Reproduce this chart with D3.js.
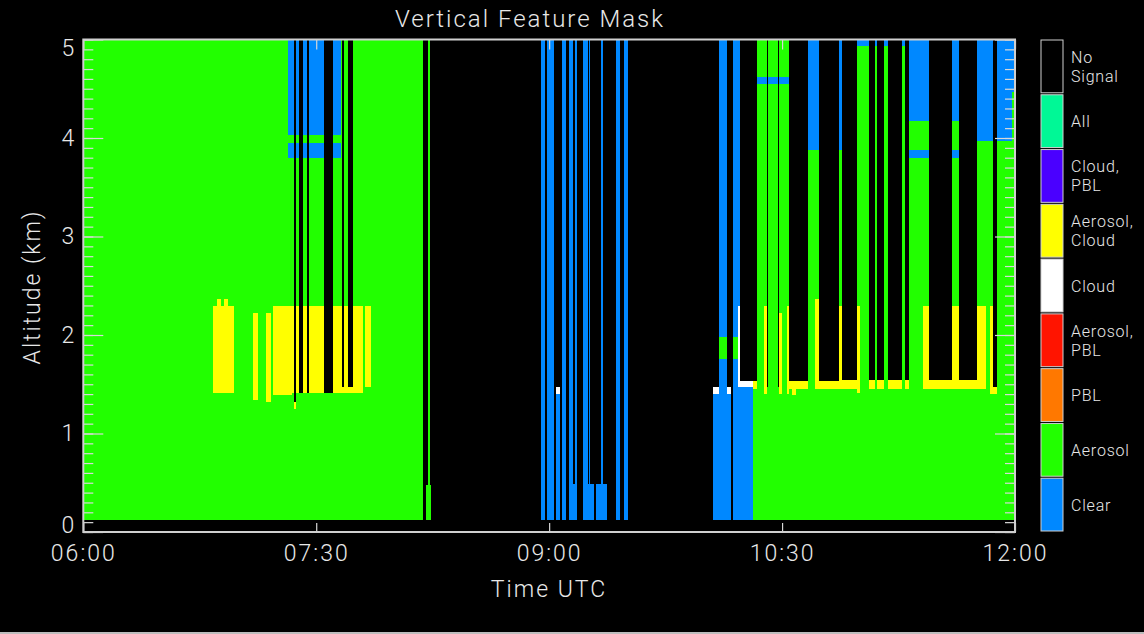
<!DOCTYPE html>
<html>
<head>
<meta charset="utf-8">
<script src="https://cdn.jsdelivr.net/npm/d3@7"></script>
<style>
  html, body { margin: 0; padding: 0; background: #000; }
  svg { display: block; }
  text { font-family: "Roboto", "DejaVu Sans", sans-serif; font-weight: 300; fill: #e8e8e8; }
</style>
</head>
<body>
<svg id="chart" width="1144" height="634"></svg>
<script>
// Feature classes, listed from the bottom of the colour bar to the top
const classNames = [["Clear"], ["Aerosol"], ["PBL"], ["Aerosol,", "PBL"], ["Cloud"],
                    ["Aerosol,", "Cloud"], ["Cloud,", "PBL"], ["All"], ["No", "Signal"]];
const classColors = ["#0088ff", "#22ff00", "#ff7800", "#ff1400", "#ffffff",
                     "#ffff00", "#4a00ff", "#00f896", "#000000"];
const CLR = 0, AER = 1, CLD = 4, AC = 5, NS = 8;

// Axis ticks: time in minutes after 00:00 UTC, altitude in km
const timeTicks = [360, 450, 540, 630, 720];
const altTicks = [0, 1, 2, 3, 4, 5];

// Mask cells: [start min, end min, base km, top km, class]; later cells paint over earlier ones
const morningCells = [
  [360.3, 491.4, 0.12, 5.0, AER],
  [410.1, 418.2, 1.41, 2.29, AC],
  [411.5, 413.1, 2.29, 2.37, AC],
  [414.5, 416.0, 2.29, 2.37, AC],
  [425.4, 427.6, 1.34, 2.22, AC],
  [430.6, 432.5, 1.32, 2.22, AC],
  [433.4, 440.5, 1.39, 2.29, AC],
  [440.5, 468.2, 1.41, 2.29, AC],
  [468.8, 471.0, 1.475, 2.29, AC],
  [441.4, 442.2, 1.25, 1.32, AC],
  [439.1, 459.4, 4.03, 5.0, CLR],
  [439.1, 459.4, 3.80, 3.95, CLR],
  [441.4, 442.2, 1.32, 5.0, NS],
  [443.5, 445.0, 1.41, 5.0, NS],
  [446.3, 447.3, 1.41, 5.0, NS],
  [453.0, 456.6, 1.41, 5.0, NS],
  [459.9, 460.7, 1.475, 5.0, NS],
  [462.4, 464.3, 1.475, 5.0, NS],
  [492.6, 494.3, 0.12, 0.48, AER],
  [493.3, 494.0, 0.48, 5.0, AER]
];

const middayCells = [
  [537.0, 538.5, 0.12, 5.0, CLR],
  [539.3, 542.0, 0.12, 5.0, CLR],
  [542.6, 544.2, 0.12, 1.40, CLR],
  [542.6, 544.2, 1.40, 1.47, CLD],
  [544.9, 546.4, 0.12, 5.0, CLR],
  [547.8, 549.3, 0.49, 5.0, CLR],
  [550.0, 550.7, 0.49, 5.0, CLR],
  [547.8, 550.7, 0.12, 0.49, CLR],
  [552.9, 554.9, 0.49, 5.0, CLR],
  [555.3, 555.9, 0.49, 5.0, CLR],
  [552.9, 557.3, 0.12, 0.49, CLR],
  [560.0, 560.8, 0.49, 5.0, CLR],
  [558.1, 562.4, 0.12, 0.49, CLR],
  [565.8, 567.5, 0.12, 5.0, CLR],
  [568.8, 570.3, 0.12, 5.0, CLR]
];

const lateCells = [
  [603.4, 610.1, 0.12, 1.40, CLR],
  [603.4, 605.7, 1.40, 1.475, CLD],
  [608.8, 610.1, 1.40, 1.475, CLD],
  [605.7, 608.8, 1.40, 1.76, CLR],
  [605.7, 608.8, 1.76, 1.98, AER],
  [605.7, 608.8, 1.98, 5.0, CLR],
  [611.1, 618.9, 0.12, 1.475, CLR],
  [611.1, 613.7, 1.475, 1.76, CLR],
  [611.1, 613.7, 1.76, 1.98, AER],
  [611.1, 613.7, 1.98, 5.0, CLR],
  [613.1, 613.8, 1.475, 2.29, CLD],
  [613.7, 618.9, 1.475, 1.53, CLD],
  [618.9, 720.0, 0.12, 1.45, AER],
  [620.4, 632.8, 1.45, 5.0, AER],
  [620.4, 632.8, 4.545, 4.616, CLR],
  [624.0, 624.7, 1.475, 5.0, NS],
  [628.3, 628.9, 1.475, 5.0, NS],
  [623.0, 624.0, 1.40, 2.29, AC],
  [628.9, 629.8, 1.40, 2.22, AC],
  [631.8, 632.8, 1.40, 2.29, AC],
  [618.9, 620.4, 1.45, 1.53, AC],
  [632.8, 640.1, 1.45, 1.53, AC],
  [634.0, 635.5, 1.39, 1.45, AC],
  [640.1, 644.2, 1.45, 3.88, AER],
  [640.1, 644.2, 3.88, 5.0, CLR],
  [642.7, 644.2, 1.45, 2.37, AC],
  [644.2, 652.1, 1.45, 1.53, AC],
  [652.1, 653.0, 1.45, 3.88, AER],
  [652.1, 653.0, 3.88, 5.0, CLR],
  [652.1, 653.0, 1.45, 2.29, AC],
  [653.0, 658.8, 1.45, 1.54, AC],
  [658.8, 663.7, 1.45, 4.93, AER],
  [658.8, 663.7, 4.93, 5.0, CLR],
  [658.8, 660.1, 1.41, 2.29, AC],
  [663.7, 665.9, 1.45, 1.54, AC],
  [665.9, 666.6, 1.45, 4.93, AER],
  [665.9, 666.6, 4.93, 5.0, CLR],
  [666.6, 669.5, 1.45, 1.54, AC],
  [669.5, 671.0, 1.45, 4.93, AER],
  [669.5, 671.0, 4.93, 5.0, CLR],
  [671.0, 676.2, 1.45, 1.54, AC],
  [676.2, 677.5, 1.45, 4.93, AER],
  [676.2, 677.5, 4.93, 5.0, CLR],
  [677.5, 679.0, 1.45, 1.54, AC],
  [679.0, 686.9, 1.45, 3.80, AER],
  [679.0, 686.9, 3.80, 3.88, CLR],
  [679.0, 686.9, 3.88, 4.17, AER],
  [679.0, 686.9, 4.17, 5.0, CLR],
  [684.3, 686.9, 1.45, 2.29, AC],
  [686.9, 695.6, 1.45, 1.54, AC],
  [695.6, 698.4, 1.45, 3.80, AER],
  [695.6, 698.4, 3.80, 3.88, CLR],
  [695.6, 698.4, 3.88, 4.17, AER],
  [695.6, 698.4, 4.17, 5.0, CLR],
  [695.6, 698.4, 1.45, 2.29, AC],
  [698.4, 705.2, 1.45, 1.54, AC],
  [705.2, 711.6, 1.45, 3.97, AER],
  [705.2, 711.6, 3.97, 5.0, CLR],
  [705.2, 708.8, 1.45, 2.29, AC],
  [710.5, 711.6, 1.40, 2.29, AC],
  [711.6, 713.1, 1.40, 1.475, AC],
  [713.1, 720.0, 1.45, 3.97, AER],
  [713.1, 718.7, 3.97, 5.0, CLR],
  [718.7, 720.0, 3.97, 4.47, AER],
  [718.7, 720.0, 4.47, 5.0, CLR]
];

const svg = d3.select("#chart");
const plot = { left: 83.3, right: 1015, top: 39.5, bottom: 532 };

const x = d3.scaleLinear().domain([360, 720]).range([plot.left, plot.right]);
const y = d3.scaleLinear().domain([0, 5]).range([plot.bottom, plot.top]);
const fmtTime = m => d3.format("02d")(Math.floor(m / 60)) + ":" + d3.format("02d")(m % 60);
const labelFont = '"Roboto","DejaVu Sans",sans-serif';

// Plot background is "No Signal"
svg.append("rect")
  .attr("x", plot.left).attr("y", plot.top)
  .attr("width", plot.right - plot.left).attr("height", plot.bottom - plot.top)
  .attr("fill", classColors[NS]);

// Mask cells
const cells = morningCells.concat(middayCells, lateCells);
svg.append("g").attr("shape-rendering", "crispEdges")
  .selectAll("rect").data(cells).join("rect")
  .attr("x", d => x(d[0]))
  .attr("width", d => Math.max(0.6, x(d[1]) - x(d[0])))
  .attr("y", d => y(d[3]))
  .attr("height", d => y(d[2]) - y(d[3]))
  .attr("fill", d => classColors[d[4]]);

// Axes (ticks point inward)
const axisColor = "#d8d8d8";
const minorAlt = d3.range(0, 51).map(i => i / 10);

const xBottom = svg.append("g").attr("transform", `translate(0,${plot.bottom})`)
  .call(d3.axisBottom(x).tickValues(timeTicks).tickFormat(fmtTime).tickSize(-9).tickPadding(13));
const xTop = svg.append("g").attr("transform", `translate(0,${plot.top})`)
  .call(d3.axisTop(x).tickValues(timeTicks).tickFormat("").tickSize(-10));

const yLeftMinor = svg.append("g").attr("transform", `translate(${plot.left},0)`)
  .call(d3.axisLeft(y).tickValues(minorAlt).tickFormat("").tickSize(-10));
const yLeft = svg.append("g").attr("transform", `translate(${plot.left},0)`)
  .call(d3.axisLeft(y).tickValues(altTicks).tickFormat(d3.format("d")).tickSize(-20).tickPadding(9));
const yRightMinor = svg.append("g").attr("transform", `translate(${plot.right},0)`)
  .call(d3.axisRight(y).tickValues(minorAlt).tickFormat("").tickSize(-10));
const yRight = svg.append("g").attr("transform", `translate(${plot.right},0)`)
  .call(d3.axisRight(y).tickValues(altTicks).tickFormat("").tickSize(-20));

[xBottom, xTop, yLeftMinor, yLeft, yRightMinor, yRight].forEach(g => {
  g.select(".domain").remove();
  g.selectAll(".tick line").attr("stroke", axisColor).attr("stroke-width", 1.2);
  g.selectAll("text").attr("font-size", 23).attr("fill", "#e8e8e8")
    .attr("letter-spacing", 2).style("font-family", labelFont);
});
// end labels of the altitude axis sit just inside the frame
yLeft.selectAll(".tick text").attr("letter-spacing", 0)
  .attr("dy", d => d === 0 ? "0.0em" : d === 5 ? "0.7em" : "0.32em");

// Frame
svg.append("rect")
  .attr("x", plot.left).attr("y", plot.top)
  .attr("width", plot.right - plot.left).attr("height", plot.bottom - plot.top)
  .attr("fill", "none").attr("stroke", "#cfcfcf").attr("stroke-width", 2);

// Titles
svg.append("text").attr("x", 530).attr("y", 27).attr("text-anchor", "middle")
  .attr("font-size", 24).attr("letter-spacing", 2).text("Vertical Feature Mask");
svg.append("text").attr("x", 549).attr("y", 597).attr("text-anchor", "middle")
  .attr("font-size", 23).attr("letter-spacing", 2).text("Time UTC");
svg.append("text").attr("transform", "translate(40,287) rotate(-90)").attr("text-anchor", "middle")
  .attr("font-size", 23).attr("letter-spacing", 2).text("Altitude (km)");

// Colour bar legend
const legend = { x: 1041, w: 22, top: 39, bottom: 532 };
const band = d3.scaleBand().domain(d3.range(classNames.length))
  .range([legend.bottom, legend.top]);
const lg = svg.append("g");
lg.selectAll("rect").data(classNames).join("rect")
  .attr("x", legend.x).attr("width", legend.w)
  .attr("y", (d, i) => band(i) + 1)
  .attr("height", band.bandwidth() - 2)
  .attr("fill", (d, i) => classColors[i])
  .attr("stroke", "#d0d0d0").attr("stroke-width", 1);

lg.selectAll("text").data(classNames).join("text")
  .attr("x", 1071)
  .attr("y", (d, i) => band(i) + band.bandwidth() / 2 + 6 - (d.length - 1) * 9.5)
  .attr("font-size", 16).attr("letter-spacing", 0.8)
  .each(function (d) {
    d3.select(this).selectAll("tspan").data(d).join("tspan")
      .attr("x", 1071).attr("dy", (t, j) => j === 0 ? 0 : 19).text(t => t);
  });

// thin rule along the bottom edge
svg.append("rect").attr("x", 0).attr("y", 632).attr("width", 1144).attr("height", 2).attr("fill", "#bdbdbd");
</script>
</body>
</html>
